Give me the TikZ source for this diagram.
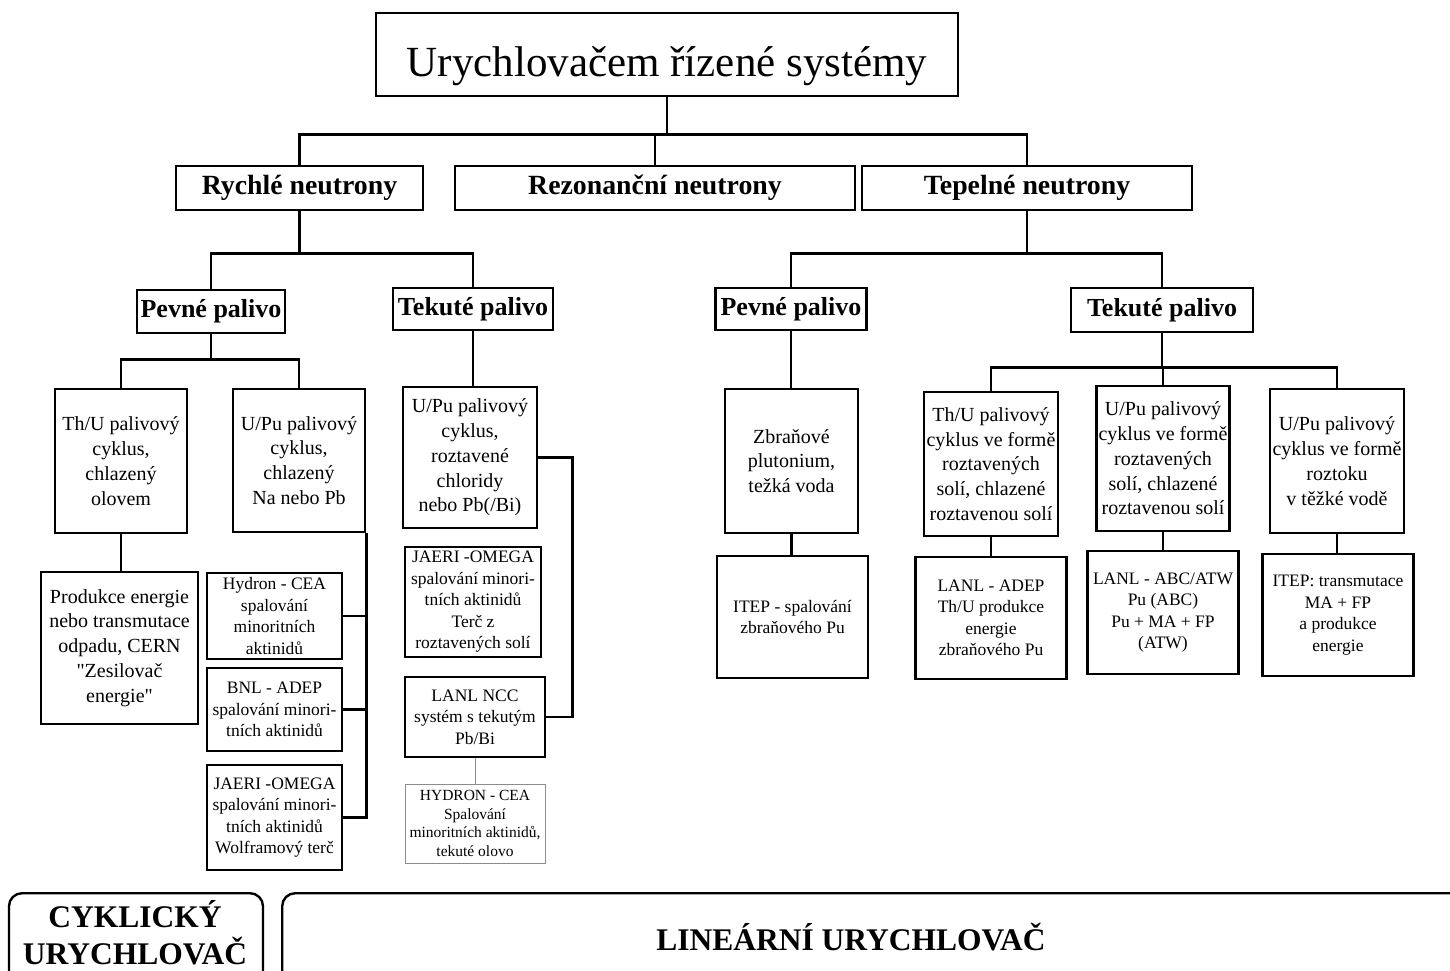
\documentclass[tikz,border=0pt]{standalone}
\usepackage{fontspec}
\setmainfont{Liberation Serif}
\begin{document}
\begin{tikzpicture}[x=1pt,y=-1pt,
    box/.style={draw,line width=2.6pt,align=center,inner sep=0pt},
    wh/.style 2 args={minimum width=#1,minimum height=#2},
    graybox/.style={draw=black!45,line width=1pt,align=center,inner sep=0pt},
    accbox/.style={draw,line width=2.4pt,rounded corners=13pt,inner sep=0pt},
    conn/.style={line width=2.6pt},
    thinconn/.style={draw=black!45,line width=1pt},
    hugefont/.style={font=\fontsize{43}{50}\selectfont},
    catfont/.style={font=\bfseries\fontsize{27.8}{32}\selectfont},
    fuelfont/.style={font=\bfseries\fontsize{26}{30}\selectfont},
    midfont/.style={font=\fontsize{20}{24.8}\selectfont},
    smallfont/.style={font=\fontsize{17.5}{21.5}\selectfont},
    tinyfont/.style={font=\fontsize{15.5}{18.6}\selectfont},
    accfont/.style={font=\bfseries\fontsize{31.5}{37}\selectfont}]
    \useasboundingbox (0,0) rectangle (1450,971);

    % Title and neutron spectra
    \node[box,hugefont,wh={582pt}{83pt},text height=45pt,text depth=0pt] (title) at (667,54.5) {Urychlovačem řízené systémy};
    \node[box,catfont,wh={247pt}{44pt}] (rych) at (299.5,188) {Rychlé neutrony};
    \node[box,catfont,wh={400pt}{44pt}] (rez) at (655,188) {Rezonanční neutrony};
    \node[box,catfont,wh={330pt}{44pt}] (tepl) at (1027,188) {Tepelné neutrony};

    % Fuel types
    \node[box,fuelfont,wh={148pt}{43pt}] (rpev) at (211,311.5) {Pevné palivo};
    \node[box,fuelfont,wh={160pt}{42pt}] (rtek) at (473,309) {Tekuté palivo};
    \node[box,fuelfont,wh={151pt}{42pt}] (tpev) at (791,309) {Pevné palivo};
    \node[box,fuelfont,wh={182pt}{44pt}] (ttek) at (1162,310) {Tekuté palivo};

    % Fast neutrons, solid fuel
    \node[box,midfont,wh={132pt}{144pt}] (thu1) at (121,461) {Th/U palivový\\cyklus,\\chlazený\\olovem};
    \node[box,midfont,wh={132pt}{143pt}] (upu1) at (299,460.5) {U/Pu palivový\\cyklus,\\chlazený\\Na nebo Pb};
    \node[box,midfont,wh={157pt}{152pt}] (prod) at (119.5,648) {Produkce energie\\nebo transmutace\\odpadu, CERN\\\textquotedbl Zesilovač\\energie\textquotedbl};
    \node[box,smallfont,wh={135pt}{86pt}] (hydron) at (274.5,616) {Hydron - CEA\\spalování\\minoritních\\aktinidů};
    \node[box,smallfont,wh={135pt}{83pt}] (bnl) at (274.5,709.5) {BNL - ADEP\\spalování minori-\\tních aktinidů};
    \node[box,smallfont,wh={135pt}{105pt}] (jaeri1) at (274.5,817.5) {JAERI -OMEGA\\spalování minori-\\tních aktinidů\\Wolframový terč};

    % Fast neutrons, liquid fuel
    \node[box,midfont,wh={134pt}{141pt}] (upu2) at (470,457.5) {U/Pu palivový\\cyklus,\\roztavené\\chloridy\\nebo Pb(/Bi)};
    \node[box,smallfont,wh={136pt}{110pt}] (jaeri2) at (473,602) {JAERI -OMEGA\\spalování minori-\\tních aktinidů\\Terč z\\roztavených solí};
    \node[box,smallfont,wh={140pt}{80pt}] (lanlncc) at (475,717) {LANL NCC\\systém s tekutým\\Pb/Bi};
    \node[graybox,tinyfont,wh={140pt}{79pt}] (hydron2) at (475,823.5) {HYDRON - CEA\\Spalování\\minoritních aktinidů,\\tekuté olovo};

    % Thermal neutrons
    \node[box,midfont,wh={133pt}{144pt}] (zbr) at (791.5,461) {Zbraňové\\plutonium,\\težká voda};
    \node[box,smallfont,wh={151pt}{122pt}] (itep1) at (792.5,617) {ITEP - spalování\\zbraňového Pu};
    \node[box,midfont,wh={134pt}{144pt}] (thu2) at (991,464) {Th/U palivový\\cyklus ve formě\\roztavených\\solí, chlazené\\roztavenou solí};
    \node[box,midfont,wh={133pt}{145pt}] (upu3) at (1163,458.5) {U/Pu palivový\\cyklus ve formě\\roztavených\\solí, chlazené\\roztavenou solí};
    \node[box,midfont,wh={134pt}{144pt}] (upu4) at (1337,461) {U/Pu palivový\\cyklus ve formě\\roztoku\\v těžké vodě};
    \node[box,smallfont,wh={151pt}{122pt}] (lanladep) at (991,618) {LANL - ADEP\\Th/U produkce\\energie\\zbraňového Pu};
    \node[box,smallfont,wh={151pt}{123pt}] (lanlabc) at (1163,612.5) {LANL - ABC/ATW\\Pu (ABC)\\Pu + MA + FP\\(ATW)};
    \node[box,smallfont,wh={151pt}{122pt}] (itep2) at (1338,615) {ITEP: transmutace\\MA + FP\\a produkce\\energie};

    % Accelerators
    \node[accbox,anchor=north,wh={254pt}{140pt}] (cyk) at (136,892) {};
    \node[accfont,align=center] (cyklabel) at (135,933) {CYKLICKÝ\\URYCHLOVAČ};
    \node[accbox,anchor=north west,wh={1200pt}{140pt}] (lin) at (281,892) {};
    \node[accfont] (linlabel) at (851,937) {LINEÁRNÍ URYCHLOVAČ};

    % Connectors
    \draw[conn] (title.south) -- ++(0,37) coordinate (bus0);
    \draw[conn] (rych.north) |- (bus0) -| (tepl.north);
    \draw[conn] (rez.north) -- (rez.north |- bus0);

    \draw[conn] (rych.south) -- ++(0,42) coordinate (bus1);
    \draw[conn] (rpev.north) |- (bus1) -| (rtek.north);
    \draw[conn] (rpev.south) -- ++(0,25) coordinate (bus2);
    \draw[conn] (thu1.north) |- (bus2) -| (upu1.north);
    \draw[conn] (thu1.south) -- (thu1.south |- prod.north);
    \draw[conn] (upu1.south east) |- (jaeri1.east);
    \draw[conn] (hydron.east) -- (hydron.east -| upu1.east);
    \draw[conn] (bnl.east) -- (bnl.east -| upu1.east);

    \draw[conn] (rtek.south) -- (rtek.south |- upu2.north);
    \draw[conn] (upu2.east) -- ++(34,0) |- (lanlncc.east);
    \draw[thinconn] (lanlncc.south) -- (hydron2.north);

    \draw[conn] (tepl.south) -- ++(0,42) coordinate (bus3);
    \draw[conn] (tpev.north) |- (bus3) -| (ttek.north);
    \draw[conn] (tpev.south) -- (tpev.south |- zbr.north);
    \draw[conn] (zbr.south) -- (zbr.south |- itep1.north);
    \draw[conn] (ttek.south) -- ++(0,34) coordinate (bus4);
    \draw[conn] (thu2.north) |- (bus4) -| (upu4.north);
    \draw[conn] (upu3.north) -- (upu3.north |- bus4);
    \draw[conn] (thu2.south) -- (thu2.south |- lanladep.north);
    \draw[conn] (upu3.south) -- (upu3.south |- lanlabc.north);
    \draw[conn] (upu4.south) -- (upu4.south |- itep2.north);
\end{tikzpicture}
\end{document}
